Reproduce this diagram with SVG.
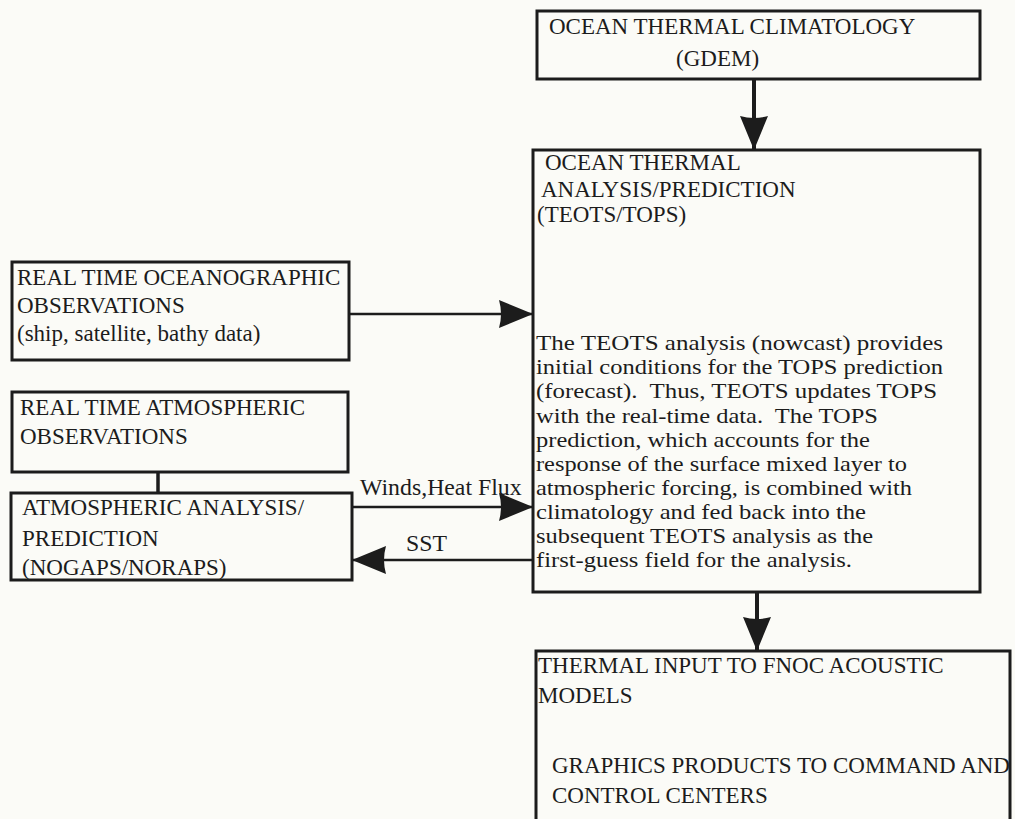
<svg xmlns="http://www.w3.org/2000/svg" width="1015" height="819" viewBox="0 0 1015 819">
<defs>
<style>
.bg{fill:#fbfbf7}
.box{fill:none;stroke:#1c1c1c;stroke-width:3}
.t{font-family:"Liberation Serif","Times New Roman",serif;font-size:23px;fill:#1c1c1c}
.p{font-family:"Liberation Serif","Times New Roman",serif;font-size:21.5px;fill:#1c1c1c;white-space:pre}
.c{fill:none;stroke:#1c1c1c;stroke-width:2.6}
.v{fill:none;stroke:#1c1c1c;stroke-width:4}
</style>
<marker id="ah" markerUnits="userSpaceOnUse" markerWidth="36" markerHeight="30" refX="34" refY="14" orient="auto" viewBox="0 0 36 30">
<path d="M0,0 Q4,14 0,28 L34,14 Z" fill="#1c1c1c"/>
</marker>
</defs>
<rect class="bg" x="0" y="0" width="1015" height="819"/>

<g id="connectors">
<path class="v" d="M754,79 L754,150" marker-end="url(#ah)"/>
<path class="v" d="M757,592 L757,651" marker-end="url(#ah)"/>
<path class="c" d="M349,314 L533,314" marker-end="url(#ah)"/>
<path class="c" d="M352,507 L533,507" marker-end="url(#ah)"/>
<path class="c" d="M533,560 L352,560" marker-end="url(#ah)"/>
<path class="v" d="M158,472 L158,493" style="stroke-width:3.5"/>
<text class="t" x="360" y="495" style="font-size:23.8px">Winds,Heat Flux</text>
<text class="t" x="406" y="551" style="font-size:23.8px">SST</text>
</g>

<g id="climatology">
<rect class="box" x="537" y="11" width="443" height="68"/>
<text class="t" x="549" y="34">OCEAN THERMAL CLIMATOLOGY</text>
<text class="t" x="676" y="66">(GDEM)</text>
</g>

<g id="analysis">
<rect class="box" x="533" y="150" width="447" height="442"/>
<text class="t" x="545" y="170">OCEAN THERMAL</text>
<text class="t" x="541" y="197">ANALYSIS/PREDICTION</text>
<text class="t" x="537" y="222">(TEOTS/TOPS)</text>
<text class="p" x="536" y="350" textLength="407" lengthAdjust="spacingAndGlyphs" xml:space="preserve">The TEOTS analysis (nowcast) provides</text>
<text class="p" x="536" y="374" textLength="407" lengthAdjust="spacingAndGlyphs" xml:space="preserve">initial conditions for the TOPS prediction</text>
<text class="p" x="536" y="398" textLength="401" lengthAdjust="spacingAndGlyphs" xml:space="preserve">(forecast).  Thus, TEOTS updates TOPS</text>
<text class="p" x="536" y="423" textLength="342" lengthAdjust="spacingAndGlyphs" xml:space="preserve">with the real-time data.  The TOPS</text>
<text class="p" x="536" y="447" textLength="334" lengthAdjust="spacingAndGlyphs" xml:space="preserve">prediction, which accounts for the</text>
<text class="p" x="536" y="471" textLength="371" lengthAdjust="spacingAndGlyphs" xml:space="preserve">response of the surface mixed layer to</text>
<text class="p" x="536" y="495" textLength="376" lengthAdjust="spacingAndGlyphs" xml:space="preserve">atmospheric forcing, is combined with</text>
<text class="p" x="536" y="519" textLength="330" lengthAdjust="spacingAndGlyphs" xml:space="preserve">climatology and fed back into the</text>
<text class="p" x="536" y="543" textLength="337" lengthAdjust="spacingAndGlyphs" xml:space="preserve">subsequent TEOTS analysis as the</text>
<text class="p" x="536" y="567" textLength="316" lengthAdjust="spacingAndGlyphs" xml:space="preserve">first-guess field for the analysis.</text>
</g>

<g id="ocean-obs">
<rect class="box" x="12" y="262" width="337" height="98"/>
<text class="t" x="17" y="285">REAL TIME OCEANOGRAPHIC</text>
<text class="t" x="17" y="313">OBSERVATIONS</text>
<text class="t" x="17" y="341">(ship, satellite, bathy data)</text>
</g>

<g id="atm-obs">
<rect class="box" x="12" y="392" width="336" height="80"/>
<text class="t" x="20" y="415">REAL TIME ATMOSPHERIC</text>
<text class="t" x="20" y="444">OBSERVATIONS</text>
</g>

<g id="atm-analysis">
<rect class="box" x="11" y="493" width="341" height="87"/>
<text class="t" x="22" y="515">ATMOSPHERIC ANALYSIS/</text>
<text class="t" x="22" y="546">PREDICTION</text>
<text class="t" x="22" y="575">(NOGAPS/NORAPS)</text>
</g>

<g id="outputs">
<rect class="box" x="536" y="651" width="474" height="180"/>
<text class="t" x="538" y="673">THERMAL INPUT TO FNOC ACOUSTIC</text>
<text class="t" x="538" y="703">MODELS</text>
<text class="t" x="552" y="773">GRAPHICS PRODUCTS TO COMMAND AND</text>
<text class="t" x="552" y="803">CONTROL CENTERS</text>
</g>
</svg>
